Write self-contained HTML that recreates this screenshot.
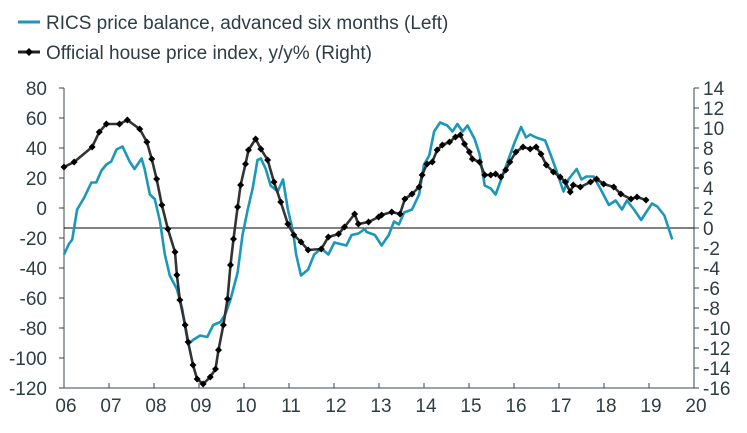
<!DOCTYPE html>
<html><head><meta charset="utf-8"><style>
html,body{margin:0;padding:0;background:#fff;}
svg{display:block;font-family:"Liberation Sans",sans-serif;}
.t{font-size:19px;fill:#2e3d42;}
</style></head><body>
<svg id="chart" width="747" height="433">
<g>
<line x1="18" y1="22" x2="40" y2="22" stroke="#1b97b8" stroke-width="3"/>
<text class="t" x="46" y="29">RICS price balance, advanced six months (Left)</text>
<line x1="18" y1="52" x2="40" y2="52" stroke="#222" stroke-width="3"/>
<path d="M29 48 L33 52 L29 56 L25 52Z" fill="#000"/>
<text class="t" x="46" y="59">Official house price index, y/y% (Right)</text>
</g>
<g id="axes"></g>
<g id="plot"></g>
</svg>
<script>
const xTickLabels=["06","07","08","09","10","11","12","13","14","15","16","17","18","19","20"];
const leftTicks=[80,60,40,20,0,-20,-40,-60,-80,-100,-120];
const rightTicks=[14,12,10,8,6,4,2,0,-2,-4,-6,-8,-10,-12,-14,-16];
const ricsMonths=[0,1.3,2.2,3.5,5.4,7.3,8.6,10,11.3,12.6,14,15.6,17.5,18.8,20.7,21.5,22.9,24.2,25.6,26.9,28.2,30.1,31.5,33.1,34.4,36.3,38.2,39.8,41.7,43,44.4,46.3,47.6,49,50.3,51.6,52.5,53.8,55.1,57,58.4,59.7,61.1,61.9,63.2,65.1,66.7,68.6,70.5,72.1,75.3,76.7,78.5,80.2,80.7,82.9,84.7,86.6,88,89.3,90.7,92.8,94.7,96,97.4,98.7,100.3,102.2,103.6,104.9,106.3,107.6,109.5,110.8,112.2,113.8,115.1,117,118.9,120.2,121.9,123.2,124.3,125.9,128.3,129.7,131.3,133.2,134.5,136.7,138,139.3,141.2,143,145.3,147.1,148.8,150.1,152,153.9,155.2,156.8,158.2,160.1,160.9,162.2];
const ricsValues=[-31,-24,-21,-1,7,17,17,25,29,31,39,41,31,26,33,26,9,6,-9,-31,-45,-54,-67,-91,-88,-85,-86,-78,-76,-71,-61,-43,-18,-1,13,32,33,26,15,11,19,-1,-16,-31,-45,-41,-31,-27,-31,-23,-25,-18,-17,-14,-16,-18,-25,-18,-9,-11,-3,-1,9,29,35,51,57,55,51,56,51,55,46,36,15,13,9,22,35,44,54,47,49,47,45,36,25,11,19,26,19,21,21,13,2,5,-1,5,-1,-8,-3,3,1,-5,-11,-21];
const hpiMonths=[0,2.7,7.5,9.4,11.3,14.8,16.9,20.2,22.1,23.4,24.7,26.1,27.7,29.6,30.1,30.9,32.3,33.1,34.4,35.5,37.1,39,40.4,41.2,42.5,43.6,44.4,45.2,46.3,47.1,48.4,49.2,51.1,52.5,54.3,56,57.8,59.7,61.3,63.2,65.1,68.6,70.5,73.2,74.8,77.5,78.5,81.2,83.9,84.7,87.4,89.6,90.9,92.8,94.7,95.5,96.8,98.2,99.5,100.9,102.8,104.4,105.7,106.8,108.1,108.9,110.8,112.2,113.8,115.1,116.5,117.8,118.9,120.5,122.4,124.3,125.9,127.2,128.6,130.5,132.3,133.7,135,135.8,137.7,140.4,142,143.9,146.6,148.5,151.2,152.8,155.2];
const hpiValues=[6.1,6.6,8.1,9.6,10.4,10.4,10.8,9.9,8.6,6.9,4.9,2.3,-0.1,-2.4,-4.7,-7.2,-9.7,-11.4,-13.7,-15.1,-15.6,-14.9,-14.1,-12.2,-9.7,-7.1,-3.7,-1.1,2.1,4.3,6.4,7.8,8.9,7.9,6.8,4.6,2.6,0.4,-0.7,-1.4,-2.2,-2.1,-0.9,-0.6,0.1,1.4,0.4,0.6,1.1,1.3,1.6,1.4,2.9,3.4,4.1,5.3,6.4,6.6,7.8,8.3,8.6,9.1,9.3,8.4,7.6,6.9,6.6,5.3,5.3,5.4,5.1,5.8,6.6,7.6,8.1,7.9,8.1,7.4,6.3,5.6,5.1,4.6,3.6,4.3,4.1,4.6,4.9,4.4,4.1,3.4,2.9,3.1,2.8];

const X0=64,X1=694,Y0=88,Y1=388;
const xs=m=>X0+(m/168)*(X1-X0);
const yl=v=>Y0+(80-v)/200*(Y1-Y0);
const yr=v=>Y0+(14-v)/30*(Y1-Y0);
const NS="http://www.w3.org/2000/svg";
function mk(tag,attrs,parent){const e=document.createElementNS(NS,tag);for(const k in attrs)e.setAttribute(k,attrs[k]);parent.appendChild(e);return e;}
const axes=document.getElementById('axes'),plot=document.getElementById('plot');
const ac="#3a474c";
let e;
e=mk('line',{x1:X0,y1:Y0,x2:X0,y2:Y1,stroke:ac,'stroke-width':1},axes);


e=mk('line',{x1:X1,y1:Y0,x2:X1,y2:Y1,stroke:ac,'stroke-width':1},axes);


e=mk('line',{x1:X0,y1:Y1,x2:X1,y2:Y1,stroke:ac,'stroke-width':1},axes);


e=mk('line',{x1:X0,y1:yr(0),x2:X1,y2:yr(0),stroke:'#000','stroke-width':1},axes);


leftTicks.forEach(v=>{const y=yl(v);
 mk('line',{x1:X0-5,y1:y,x2:X0,y2:y,stroke:ac},axes);
 e=mk('text',{x:X0-17,y:y+7,'text-anchor':'end',class:'t'},axes);e.textContent=v;
 
 });
rightTicks.forEach(v=>{const y=yr(v);
 mk('line',{x1:X1,y1:y,x2:X1+5,y2:y,stroke:ac},axes);
 e=mk('text',{x:X1+9,y:y+7,class:'t'},axes);e.textContent=v;
 
 });
xTickLabels.forEach((l,i)=>{const x=X0+i*(X1-X0)/14;
 mk('line',{x1:x,y1:Y1,x2:x,y2:Y1-5,stroke:ac},axes);
 e=mk('text',{x:x+2,y:Y1+24,'text-anchor':'middle',class:'t'},axes);e.textContent=l;
 
 });
e=mk('polyline',{points:ricsMonths.map((m,i)=>xs(m)+','+yl(ricsValues[i])).join(' '),fill:'none',stroke:'#1b97b8','stroke-width':2.6,'stroke-linejoin':'round'},plot);


e=mk('polyline',{points:hpiMonths.map((m,i)=>xs(m)+','+yr(hpiValues[i])).join(' '),fill:'none',stroke:'#333','stroke-width':2.6,'stroke-linejoin':'round'},plot);


hpiMonths.forEach((m,i)=>{const x=xs(m),y=yr(hpiValues[i]);
 e=mk('path',{d:`M${x} ${y-3.5}L${x+3.5} ${y}L${x} ${y+3.5}L${x-3.5} ${y}Z`,fill:'#000'},plot);
 
 });
</script>
</body></html>
